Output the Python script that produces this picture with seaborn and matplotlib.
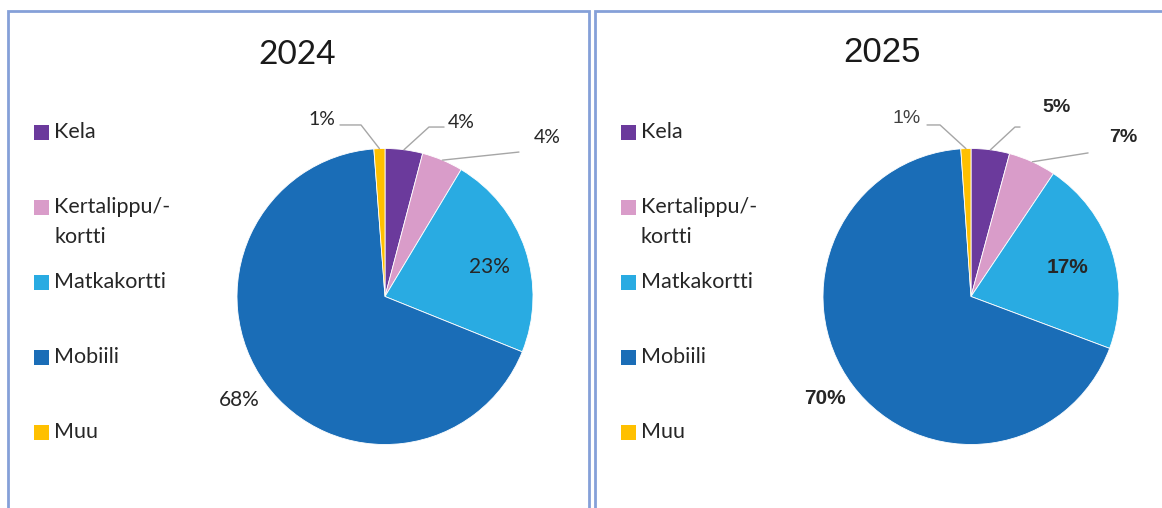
import numpy as np
import pandas as pd
import seaborn as sns
import matplotlib.pyplot as plt
from matplotlib.patches import Rectangle

# data
categories = ["Kela", "Kertalippu/-\nkortti", "Matkakortti", "Mobiili", "Muu"]
shares_2024 = [4.1, 4.5, 22.5, 67.7, 1.2]
shares_2025 = [4.2, 5.2, 21.3, 68.2, 1.1]
labels_2024 = ["4%", "4%", "23%", "68%", "1%"]
labels_2025 = ["5%", "7%", "17%", "70%", "1%"]
years = ["2024", "2025"]

colors = ["#6B3A9C", "#D99CC9", "#29ABE2", "#1A6DB7", "#FFC000"]

sns.set_theme(style="white")
plt.rcParams["font.family"] = ["Lato", "DejaVu Sans"]

W, H = 1162, 508
fig = plt.figure(figsize=(W / 100, H / 100), dpi=100)
fig.patch.set_facecolor("white")


def box(x0, ytop, w, h):
    return [x0 / W, 1 - (ytop + h) / H, w / W, h / H]


# panel layout (pixels)
panels = [
    dict(left=8, right=589, title_xy=(297, 55), title_font="Lato", title_size=24,
         center=(385, 296.5), legend_x=34, label_font="Lato",
         weights=["normal"] * 5,
         shares=shares_2024, texts=labels_2024,
         # label position, leader start, leader corner (pie radius units)
         spots=[((0.514, 1.179), (0.399, 1.145), (0.297, 1.145)),
                ((1.095, 1.071), (0.905, 0.976), (0.905, 0.976)),
                ((0.703, 0.199), None, None),
                ((-0.986, -0.699), None, None),
                ((-0.426, 1.193), (-0.304, 1.159), (-0.162, 1.159))]),
    dict(left=595, right=1170, title_xy=(882, 52), title_font="Liberation Sans", title_size=25,
         center=(971, 296.5), legend_x=621, label_font="Liberation Sans",
         weights=["bold", "bold", "bold", "bold", "normal"],
         shares=shares_2025, texts=labels_2025,
         spots=[((0.581, 1.274), (0.331, 1.145), (0.297, 1.145)),
                ((1.027, 1.071), (0.791, 0.970), (0.791, 0.970)),
                ((0.655, 0.199), None, None),
                ((-0.986, -0.686), None, None),
                ((-0.432, 1.206), (-0.297, 1.159), (-0.209, 1.159))]),
]
R = 148
legend_y = [132, 207, 282, 357, 432]

for year, p in zip(years, panels):
    # panel frame
    fig.patches.append(Rectangle((p["left"] / W, -0.05), (p["right"] - p["left"]) / W,
                                 1 - 11 / H + 0.05, transform=fig.transFigure,
                                 fill=False, edgecolor="#85A0D8", linewidth=2))
    fig.text(p["title_xy"][0] / W, 1 - p["title_xy"][1] / H, year, ha="center", va="center",
             fontsize=p["title_size"], family=p["title_font"], color="#1a1a1a")

    # legend
    for i, (cat, col) in enumerate(zip(categories, colors)):
        y = legend_y[i]
        fig.patches.append(Rectangle((p["legend_x"] / W, 1 - (y + 7.5) / H), 15 / W, 15 / H,
                                     transform=fig.transFigure, facecolor=col, edgecolor="none"))
        for k, line in enumerate(cat.split("\n")):
            fig.text((p["legend_x"] + 20) / W, 1 - (y + 30 * k) / H, line, ha="left",
                     va="center", fontsize=15.5, color="#262626")

    cx, cy = p["center"]
    ax = fig.add_axes(box(cx - R, cy - R, 2 * R, 2 * R))
    wedges, _ = ax.pie(p["shares"], colors=colors, startangle=90, counterclock=False,
                       radius=1, wedgeprops=dict(edgecolor="white", linewidth=0.6))
    ax.set_xlim(-1, 1)
    ax.set_ylim(-1, 1)
    ax.axis("off")

    for w, txt, wt, (pos, start, corner) in zip(wedges, p["texts"], p["weights"], p["spots"]):
        inside = start is None
        ax.text(pos[0], pos[1], txt, ha="center", va="center",
                fontsize=15 if inside else 14, family=p["label_font"],
                fontweight=wt, color="#262626" if wt == "bold" or p["label_font"] == "Lato" else "#404040",
                clip_on=False)
        if not inside:
            mid = np.deg2rad((w.theta1 + w.theta2) / 2)
            ax.plot([start[0], corner[0], np.cos(mid)], [start[1], corner[1], np.sin(mid)],
                    color="#A6A6A6", linewidth=1, clip_on=False)

fig.savefig("out.png", dpi=100, facecolor="white")
